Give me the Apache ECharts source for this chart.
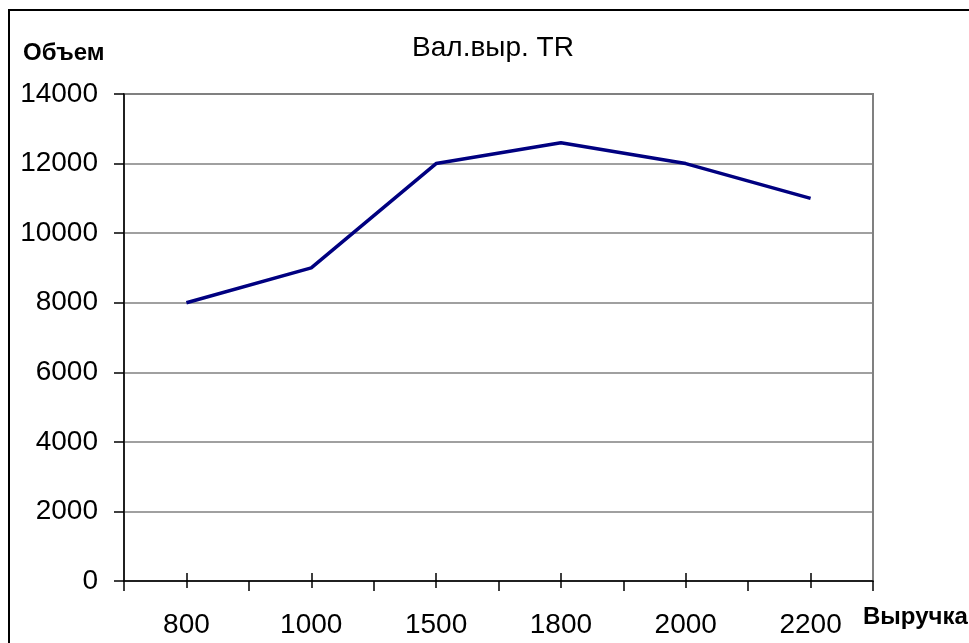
<!DOCTYPE html>
<html>
<head>
<meta charset="utf-8">
<script src="https://cdn.jsdelivr.net/npm/echarts@6/dist/echarts.min.js"></script>
<style>html,body{margin:0;padding:0;background:#fff;}#c{width:969px;height:643px;}</style>
</head>
<body>
<div id="c"></div>
<script>
const categories = ['800', '1000', '1500', '1800', '2000', '2200'];
const values = [8000, 9000, 12000, 12600, 12000, 11000];
const yTicks = [0, 2000, 4000, 6000, 8000, 10000, 12000, 14000];
const titleText = 'Вал.выр. TR';
const yName = 'Объем';
const xName = 'Выручка';

const FONT = '"Liberation Sans", Arial, sans-serif';
const chart = echarts.init(document.getElementById('c'), null, {renderer: 'canvas'});
const baseX = {
  type: 'category', data: categories, boundaryGap: true, position: 'bottom',
  axisLabel: {show: false}, splitLine: {show: false}
};
chart.setOption({
  animation: false,
  backgroundColor: '#fff',
  title: {
    text: titleText, left: 488, top: 29, textAlign: 'center',
    textStyle: {fontFamily: FONT, fontSize: 28, fontWeight: 'normal', color: '#000'}
  },
  grid: {left: 124, top: 94, right: 96, bottom: 62, show: true, borderColor: '#808080', borderWidth: 2},
  xAxis: [
    Object.assign({}, baseX, {
      axisLine: {show: true, lineStyle: {color: '#000', width: 1.5}},
      axisTick: {show: true, inside: false, length: 10, lineStyle: {color: '#000', width: 1.5}},
      axisLabel: {show: true, fontFamily: FONT, fontSize: 28, color: '#000', margin: 30}
    }),
    Object.assign({}, baseX, {
      axisLine: {show: false},
      axisTick: {show: true, alignWithLabel: true, inside: true, length: 8, lineStyle: {color: '#000', width: 1.5}}
    }),
    Object.assign({}, baseX, {
      axisLine: {show: false},
      axisTick: {show: true, alignWithLabel: true, inside: false, length: 7, lineStyle: {color: '#000', width: 1.5}}
    })
  ],
  yAxis: {
    type: 'value', min: yTicks[0], max: yTicks[yTicks.length - 1], interval: 2000,
    axisLine: {show: true, lineStyle: {color: '#000', width: 1.5}},
    axisTick: {show: true, inside: false, length: 10, lineStyle: {color: '#000', width: 1.5}},
    axisLabel: {fontFamily: FONT, fontSize: 28, color: '#000', margin: 26, formatter: function (v) { return String(v); }},
    splitLine: {show: true, lineStyle: {color: '#808080', width: 1.5}}
  },
  graphic: [
    {type: 'rect', shape: {x: 9, y: 10, width: 1000, height: 700}, style: {fill: 'none', stroke: '#000', lineWidth: 2}, silent: true, z: -1},
    {type: 'text', left: 23, top: 41, style: {text: yName, font: 'bold 24px ' + FONT, fill: '#000'}},
    {type: 'text', left: 863, top: 605, style: {text: xName, font: 'bold 24px ' + FONT, fill: '#000'}}
  ],
  series: [{
    type: 'line', data: values, xAxisIndex: 0, symbol: 'none',
    lineStyle: {color: '#000080', width: 3.5}, itemStyle: {color: '#000080'}
  }]
});
</script>
</body>
</html>
